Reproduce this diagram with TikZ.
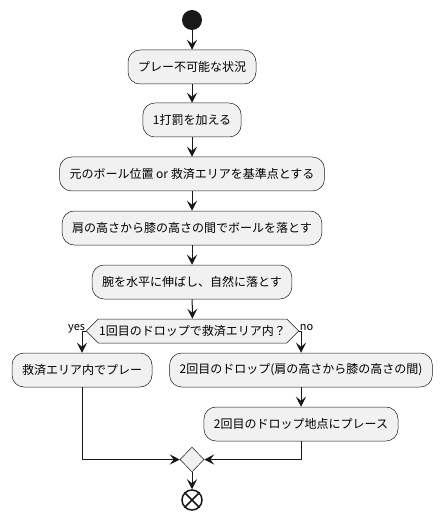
\documentclass[tikz,border=0pt]{standalone}
\usepackage{fontspec}
\setmainfont{Noto Sans CJK JP}
\usetikzlibrary{arrows.meta,shapes.geometric,shapes.symbols}
\definecolor{boxfill}{HTML}{F1F1F1}
\definecolor{linecol}{HTML}{181818}
\begin{document}
\begin{tikzpicture}[x=1pt,y=-1pt,
  act/.style={draw=linecol,fill=boxfill,rounded corners=12pt,line width=0.5pt,
    minimum height=34pt,inner xsep=10pt,font=\fontsize{12}{14}\selectfont},
  decide/.style={signal,signal to=west and east,signal pointer angle=90,
    draw=linecol,fill=boxfill,line width=0.5pt,minimum height=24pt,inner ysep=0pt,
    inner xsep=1pt,font=\fontsize{12}{14}\selectfont},
  flow/.style={-{Stealth[length=10pt,width=10pt,inset=4pt]},draw=linecol,line width=1pt},
  lbl/.style={inner sep=0.5pt,font=\fontsize{11}{13}\selectfont}]
\useasboundingbox (0,0) rectangle (446,521);
% nodes
\node[circle,fill=linecol,minimum size=20pt,inner sep=0pt] (start) at (192,20) {};
\node[act] (s1) at (192,67) {プレー不可能な状況};
\node[act] (s2) at (192,120) {1打罰を加える};
\node[act] (s3) at (192,174) {元のボール位置 or 救済エリアを基準点とする};
\node[act] (s4) at (192,228) {肩の高さから膝の高さの間でボールを落とす};
\node[act] (s5) at (192,282) {腕を水平に伸ばし、自然に落とす};
\node[decide] (dec) at (192.5,331) {1回目のドロップで救済エリア内？};
\node[lbl,anchor=base east] (ylab) at ([yshift=1pt]dec.west) {yes};
\node[lbl,anchor=base west] (nlab) at ([yshift=1pt]dec.east) {no};
\node[act] (inarea) at (82,370) {救済エリア内でプレー};
\node[act] (drop2) at (301,370) {2回目のドロップ(肩の高さから膝の高さの間)};
\node[act] (place) at (301,424) {2回目のドロップ地点にプレース};
\node[diamond,draw=linecol,fill=boxfill,line width=0.5pt,minimum width=24pt,
  minimum height=25pt,inner sep=0pt] (merge) at (192,459.5) {};
\node[circle,draw=linecol,line width=1.5pt,minimum size=20pt,inner sep=0pt] (stop) at (192,500) {};
\draw[linecol,line width=1.5pt] (stop.north west) -- (stop.south east)
  (stop.north east) -- (stop.south west);
% flow
\draw[flow] (start) -- (s1);
\draw[flow] (s1) -- (s2);
\draw[flow] (s2) -- (s3);
\draw[flow] (s3) -- (s4);
\draw[flow] (s4) -- (s5);
\draw[flow] (s5) -- (dec);
\draw[flow] (dec.west) -| (inarea.north);
\draw[flow] (dec.east) -| (drop2.north);
\draw[flow] (drop2) -- (place);
\draw[flow] (inarea.south) |- (merge.west);
\draw[flow] (place.south) |- (merge.east);
\draw[flow] (merge) -- (stop);
\end{tikzpicture}
\end{document}
